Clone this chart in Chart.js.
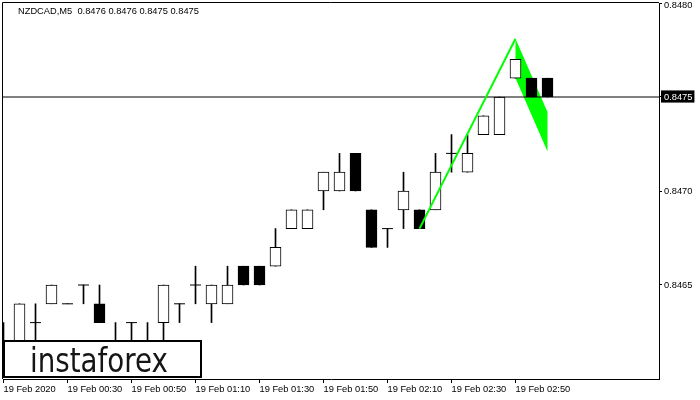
<!DOCTYPE html>
<html>
<head>
<meta charset="utf-8">
<script src="https://cdn.jsdelivr.net/npm/chart.js@4.4.0/dist/chart.umd.min.js"></script>
<style>
    body { margin: 0; background: #fff; }
    #wrap { width: 700px; height: 400px; }
</style>
</head>
<body>
<div id="wrap"><canvas id="chart" width="700" height="400"></canvas></div>
<script>
// NZDCAD M5 candles, one per bar index
const candleOpen  = [0.8462, 0.8462, 0.8463, 0.8464, 0.8464, 0.8465, 0.8464, 0.8461, 0.8463, 0.8462,
                     0.8463, 0.8464, 0.8465, 0.8464, 0.8464, 0.8466, 0.8466, 0.8466, 0.8468, 0.8468,
                     0.8470, 0.8470, 0.8472, 0.8469, 0.8468, 0.8469, 0.8469, 0.8469, 0.8472, 0.8471,
                     0.8473, 0.8473, 0.8476, 0.8476, 0.8476];
const candleHigh  = [0.8463, 0.8464, 0.8464, 0.8465, 0.8464, 0.8465, 0.8465, 0.8463, 0.8463, 0.8463,
                     0.8465, 0.8464, 0.8466, 0.8465, 0.8466, 0.8466, 0.8466, 0.8468, 0.8469, 0.8469,
                     0.8471, 0.8472, 0.8472, 0.8469, 0.8468, 0.8471, 0.8469, 0.8472, 0.8473, 0.8473,
                     0.8474, 0.8475, 0.8477, 0.8476, 0.8476];
const candleLow   = [0.8461, 0.8461, 0.8462, 0.8464, 0.8464, 0.8464, 0.8463, 0.8461, 0.8462, 0.8461,
                     0.8462, 0.8463, 0.8464, 0.8463, 0.8464, 0.8465, 0.8465, 0.8466, 0.8468, 0.8468,
                     0.8469, 0.8470, 0.8470, 0.8467, 0.8467, 0.8468, 0.8468, 0.8469, 0.8471, 0.8471,
                     0.8473, 0.8473, 0.8476, 0.8475, 0.8475];
const candleClose = [0.8462, 0.8464, 0.8463, 0.8465, 0.8464, 0.8465, 0.8463, 0.8462, 0.8463, 0.8461,
                     0.8465, 0.8464, 0.8465, 0.8465, 0.8465, 0.8465, 0.8465, 0.8467, 0.8469, 0.8469,
                     0.8471, 0.8471, 0.8470, 0.8467, 0.8468, 0.8470, 0.8468, 0.8471, 0.8472, 0.8472,
                     0.8474, 0.8475, 0.8477, 0.8475, 0.8475];

const timeTickIndex  = [0, 4, 8, 12, 16, 20, 24, 28, 32];
const timeTickLabels = ['19 Feb 2020', '19 Feb 00:30', '19 Feb 00:50', '19 Feb 01:10', '19 Feb 01:30',
                        '19 Feb 01:50', '19 Feb 02:10', '19 Feb 02:30', '19 Feb 02:50'];
const priceTicks = [0.8465, 0.8470, 0.8475, 0.8480];
const lastPrice = 0.8475;

// flag pattern: pole and flag body
const poleX = [26, 32];
const poleY = [0.8468, 0.84781];
const flagX = [32, 34, 34, 32, 32];
const flagY = [0.84781, 0.84742, 0.84721, 0.8476, 0.84781];

const titleText = 'NZDCAD,M5  0.8476 0.8476 0.8475 0.8475';
const logoText = 'instaforex';

const xMin = -1 / 32;
const xMax = 41 - 1 / 32;
const yMax = 0.8480;
const uiFont = '"Liberation Sans", Arial, sans-serif';

const idx = candleOpen.map((v, i) => i);
const bodyIdx = idx.filter(i => candleOpen[i] !== candleClose[i]);
const dojiIdx = idx.filter(i => candleOpen[i] === candleClose[i]);

const overlayPlugin = {
    id: 'overlay',
    afterDraw(chart) {
        const ctx = chart.ctx;
        const area = chart.chartArea;
        ctx.save();
        // frame top and left
        ctx.strokeStyle = '#000';
        ctx.lineWidth = 1;
        ctx.beginPath();
        ctx.moveTo(area.left - 0.5, area.bottom);
        ctx.lineTo(area.left - 0.5, area.top - 0.5);
        ctx.lineTo(area.right, area.top - 0.5);
        ctx.stroke();

        // title
        ctx.fillStyle = '#000';
        ctx.font = '9.3px ' + uiFont;
        ctx.textBaseline = 'middle';
        ctx.textAlign = 'left';
        ctx.fillText(titleText, 18, 11);

        // logo box
        ctx.fillStyle = '#fff';
        ctx.fillRect(3, 340, 199, 38);
        ctx.lineWidth = 2;
        ctx.strokeRect(4, 341, 197, 36);
        ctx.fillStyle = '#151515';
        ctx.font = '33px "DejaVu Sans", sans-serif';
        ctx.textBaseline = 'alphabetic';
        ctx.fillText(logoText, 30, 372, 138);
        ctx.restore();
    }
};

new Chart(document.getElementById('chart'), {
    type: 'bar',
    data: {
        datasets: [
            {
                type: 'line',
                data: flagX.map((x, i) => ({ x: x, y: flagY[i] })),
                borderWidth: 0,
                backgroundColor: '#00ff00',
                fill: 'shape',
                pointRadius: 0,
                tension: 0,
                order: 6
            },
            {
                data: idx.map(i => ({ x: i, y: [candleLow[i], candleHigh[i]] })),
                backgroundColor: '#000',
                borderWidth: 0,
                grouped: false,
                barPercentage: 1,
                categoryPercentage: 1,
                maxBarThickness: 1,
                order: 5
            },
            {
                data: bodyIdx.map(i => ({ x: i, y: [candleOpen[i], candleClose[i]] })),
                backgroundColor: bodyIdx.map(i => candleClose[i] > candleOpen[i] ? '#fff' : '#000'),
                borderColor: '#000',
                borderWidth: 1,
                borderSkipped: false,
                grouped: false,
                barPercentage: 1,
                categoryPercentage: 1,
                maxBarThickness: 11,
                order: 4
            },
            {
                type: 'line',
                data: dojiIdx.map(i => ({ x: i, y: candleClose[i] })),
                showLine: false,
                pointStyle: 'line',
                pointRadius: 5.5,
                pointBorderWidth: 1,
                pointBorderColor: '#000',
                order: 3
            },
            {
                type: 'line',
                data: [{ x: xMin, y: lastPrice }, { x: xMax, y: lastPrice }],
                borderColor: '#000',
                borderWidth: 1,
                pointRadius: 0,
                order: 2
            },
            {
                type: 'line',
                data: poleX.map((x, i) => ({ x: x, y: poleY[i] })),
                borderColor: '#00ff00',
                borderWidth: 2,
                pointRadius: 0,
                order: 1
            }
        ]
    },
    options: {
        responsive: false,
        animation: false,
        events: [],
        layout: { autoPadding: false, padding: { left: 3, top: 3, right: 0, bottom: 0 } },
        plugins: {
            legend: { display: false },
            tooltip: { enabled: false }
        },
        scales: {
            x: {
                type: 'linear',
                min: xMin,
                max: xMax,
                offset: false,
                afterFit: function(scale) {
                    scale.height = 21;
                    scale.paddingLeft = 0;
                    scale.paddingRight = 0;
                },
                afterBuildTicks: function(scale) {
                    scale.ticks = timeTickIndex.map(v => ({ value: v }));
                },
                grid: {
                    offset: false,
                    drawOnChartArea: false,
                    color: '#000',
                    tickLength: 4
                },
                border: { display: true, color: '#000' },
                ticks: {
                    autoSkip: false,
                    maxRotation: 0,
                    align: 'start',
                    padding: 1,
                    color: '#000',
                    font: { family: uiFont, size: 9.3 },
                    callback: function(value, index) { return timeTickLabels[index]; }
                }
            },
            y: {
                type: 'linear',
                position: 'right',
                min: 0.8460,
                max: yMax,
                afterFit: function(scale) {
                    scale.width = 41;
                    scale.paddingTop = 0;
                    scale.paddingBottom = 0;
                },
                afterBuildTicks: function(scale) {
                    scale.ticks = priceTicks.map(v => ({ value: v }));
                },
                grid: {
                    drawOnChartArea: false,
                    color: '#000',
                    tickLength: 3
                },
                border: { display: true, color: '#000' },
                ticks: {
                    padding: 2,
                    // top label is pushed down a little so it stays inside the canvas
                    font: ctx => ({
                        family: uiFont,
                        size: 9.3,
                        lineHeight: ctx.tick && ctx.tick.value === yMax ? 0.6 : 1.2
                    }),
                    color: ctx => ctx.tick && ctx.tick.value === lastPrice ? '#fff' : '#000',
                    showLabelBackdrop: ctx => !!(ctx.tick && ctx.tick.value === lastPrice),
                    backdropColor: '#000',
                    backdropPadding: { left: 3, right: 2, top: 1, bottom: 0 },
                    callback: function(value) {
                        return value === yMax ? ['', value.toFixed(4)] : value.toFixed(4);
                    }
                }
            }
        }
    },
    plugins: [overlayPlugin]
});
</script>
</body>
</html>
